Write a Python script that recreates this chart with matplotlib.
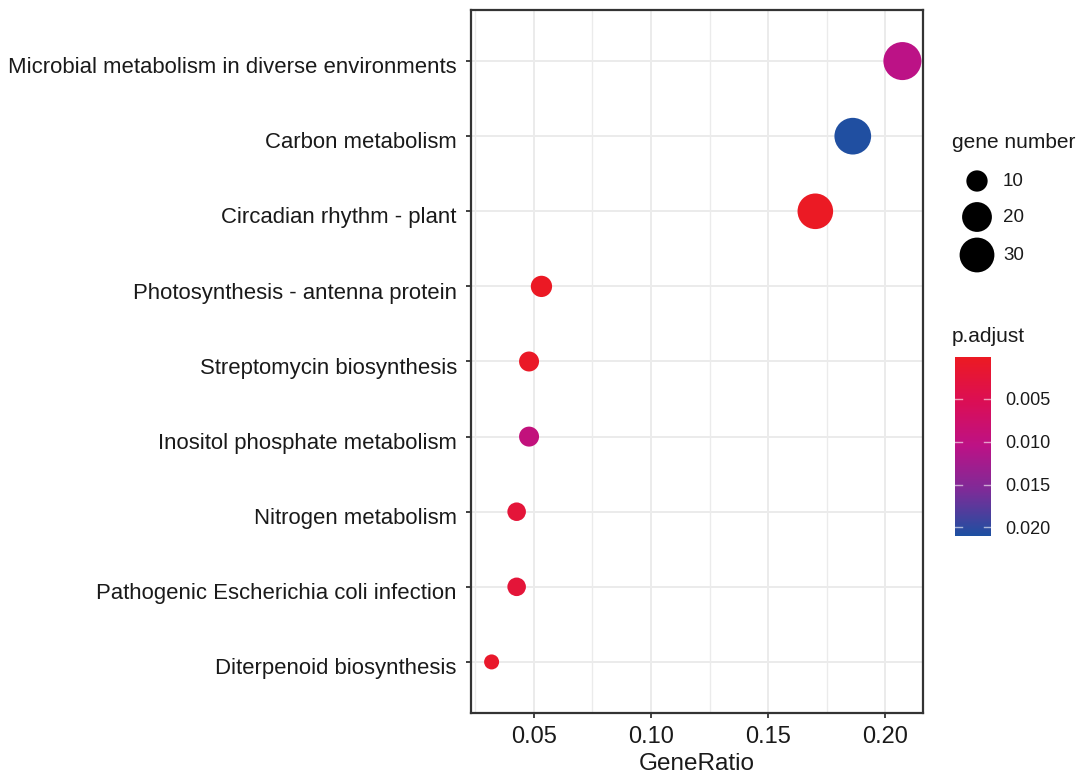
import numpy as np
import matplotlib
matplotlib.use("Agg")
import matplotlib.pyplot as plt
import matplotlib.transforms as mtransforms
from matplotlib.colors import LinearSegmentedColormap, Normalize
from matplotlib.ticker import MultipleLocator, FixedLocator

plt.rcParams['font.family'] = ['Liberation Sans', 'DejaVu Sans']

# ---- data ----
pathways = [
    "Microbial metabolism in diverse environments",
    "Carbon metabolism",
    "Circadian rhythm - plant",
    "Photosynthesis - antenna protein",
    "Streptomycin biosynthesis",
    "Inositol phosphate metabolism",
    "Nitrogen metabolism",
    "Pathogenic Escherichia coli infection",
    "Diterpenoid biosynthesis",
]
gene_ratio = [0.2074, 0.1862, 0.1702, 0.0532, 0.0479, 0.0479, 0.0426, 0.0426, 0.0319]
gene_number = [39, 35, 32, 10, 9, 9, 8, 8, 6]
p_adjust = [0.0105, 0.0208, 0.0003, 0.0004, 0.0006, 0.0095, 0.0025, 0.0025, 0.0010]

size_breaks = [10, 20, 30]
color_ticks = [0.005, 0.010, 0.015, 0.020]
x_ticks = [0.05, 0.10, 0.15, 0.20]

# ---- styles ----
DPI = 100
W, H = 1076, 773
p_min, p_max = 0.0001, 0.0210
cmap = LinearSegmentedColormap.from_list(
    "padj",
    [(0.0, "#EC1A22"), (0.25, "#DB0E55"), (0.5, "#BC1286"),
     (0.75, "#7C2C98"), (1.0, "#1D50A1")])
norm = Normalize(vmin=p_min, vmax=p_max)


def diam_px(n):
    return 15 + 12.3 * np.log(np.asarray(n, float) / 6.0)


def s_pt2(n):
    return (diam_px(n) * 72.0 / DPI) ** 2


TXT = '#1a1a1a'
fig = plt.figure(figsize=(W / DPI, H / DPI), dpi=DPI)
ax = fig.add_axes([471 / W, 1 - 713 / H, (923 - 471) / W, (713 - 10) / H])

ypos = np.arange(len(pathways))[::-1]
ax.scatter(gene_ratio, ypos, s=s_pt2(gene_number), c=p_adjust, cmap=cmap, norm=norm,
           linewidths=0, zorder=3)

ax.set_xlim(0.0231, 0.2162)
ax.set_ylim(-0.68, len(pathways) - 1 + 0.68)
ax.set_yticks(ypos)
ax.set_yticklabels(pathways)
ax.xaxis.set_major_locator(FixedLocator(x_ticks))
ax.set_xticklabels([f"{v:.2f}" for v in x_ticks])
ax.xaxis.set_minor_locator(MultipleLocator(0.025))

ax.grid(True, which='major', color='#EBEBEB', linewidth=1.4, zorder=0)
ax.grid(True, which='minor', axis='x', color='#EBEBEB', linewidth=1.0, zorder=0)
ax.set_axisbelow(True)
ax.tick_params(axis='x', which='minor', length=0)
ax.tick_params(axis='y', which='major', length=3.8, width=1.3, color='#333333', pad=6.4,
               labelsize=15.9, labelcolor=TXT)
ax.tick_params(axis='x', which='major', length=3.8, width=1.3, color='#333333', pad=5.5,
               labelsize=17, labelcolor=TXT)
shift = mtransforms.ScaledTranslation(0, -3 / 72, fig.dpi_scale_trans)
for lbl in ax.get_yticklabels():
    lbl.set_transform(lbl.get_transform() + shift)
for sp in ax.spines.values():
    sp.set_color('#333333')
    sp.set_linewidth(1.6)
fig.text(697 / W, 1 - 770 / H, "GeneRatio", fontsize=17.5, color=TXT,
         ha='center', va='baseline')

# ---- size legend ----
lax = fig.add_axes([0, 0, 1, 1])
lax.set_xlim(0, W)
lax.set_ylim(H, 0)
lax.axis('off')
lax.text(952, 142, "gene number", fontsize=15, va='center', ha='left', color=TXT)
leg_y = [181, 217, 255]
lax.scatter([977] * len(size_breaks), leg_y, s=s_pt2(size_breaks), c='black', linewidths=0)
for yy, b in zip(leg_y, size_breaks):
    lax.text(1003, yy, str(b), fontsize=13.5, va='center', ha='left', color=TXT)

# ---- colorbar ----
lax.text(952, 336, "p.adjust", fontsize=15, va='center', ha='left', color=TXT)
cax = fig.add_axes([955 / W, 1 - 536 / H, 36 / W, (536 - 357) / H])
sm = matplotlib.cm.ScalarMappable(norm=norm, cmap=cmap)
cb = fig.colorbar(sm, cax=cax, ticks=color_ticks)
cb.outline.set_visible(False)
cax.invert_yaxis()
cax.set_yticklabels([f"{t:.3f}" for t in color_ticks])
cax.tick_params(axis='y', length=0, pad=10, labelsize=13, labelcolor=TXT)
for t in color_ticks:
    cax.plot([0, 0.2], [t, t], color='white', lw=1.0, alpha=0.6, transform=cax.get_yaxis_transform())
    cax.plot([0.8, 1.0], [t, t], color='white', lw=1.0, alpha=0.6, transform=cax.get_yaxis_transform())

fig.savefig("out.png", dpi=DPI)
